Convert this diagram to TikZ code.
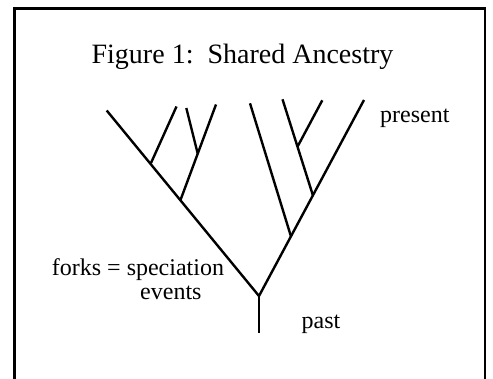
\documentclass[tikz,border=0pt]{standalone}
\usepackage{fontspec}
\setmainfont{Liberation Serif}
\begin{document}
\begin{tikzpicture}[x=1pt,y=-1pt,
  branch/.style={line width=2.4pt, line cap=butt},
  frame/.style={line width=2.4pt},
  label/.style={inner sep=0pt, font=\fontsize{24}{24}\selectfont},
  heading/.style={inner sep=0pt, font=\fontsize{28}{28}\selectfont}]
\useasboundingbox (0,0) rectangle (493,379);
\fill[white] (0,0) rectangle (493,379);
% frame, open at the bottom
\draw[frame] (14.5,379) -- (14.5,8.6) -- (485,8.6) -- (485,379);

% title
\node[heading, anchor=base] (title) at (242.5,63.3) {Figure 1:\ \ Shared Ancestry};

% tree points
\coordinate (base) at (259,333);
\coordinate (root) at (259,296);
\coordinate (ltip) at (106.7,110.5);
\coordinate (rtip) at (364,100);
\coordinate (a) at (151,163);
\coordinate (atip) at (176.5,106.5);
\coordinate (b) at (180.5,200);
\coordinate (btip) at (216,104.5);
\coordinate (c) at (197.7,153.5);
\coordinate (ctip) at (186.3,108);
\coordinate (d) at (291,236.5);
\coordinate (dtip) at (250,103.3);
\coordinate (e) at (312.8,195);
\coordinate (etip) at (282.5,99.3);
\coordinate (f) at (297.6,146.5);
\coordinate (ftip) at (322.3,100.3);

% branches
\draw[branch] (base) -- (root);
\draw[branch] (root) -- (ltip);
\draw[branch] (root) -- (rtip);
\draw[branch] (a) -- (atip);
\draw[branch] (b) -- (btip);
\draw[branch] (c) -- (ctip);
\draw[branch] (d) -- (dtip);
\draw[branch] (e) -- (etip);
\draw[branch] (f) -- (ftip);

% labels
\node[label, anchor=base west] (present) at (380,122.3) {present};
\node[label, anchor=base west] (forks) at (51.7,275.7) {forks = speciation};
\node[label, anchor=base west] (events) at (140,300) {events};
\node[label, anchor=base west] (past) at (301.5,328.5) {past};
\end{tikzpicture}
\end{document}
